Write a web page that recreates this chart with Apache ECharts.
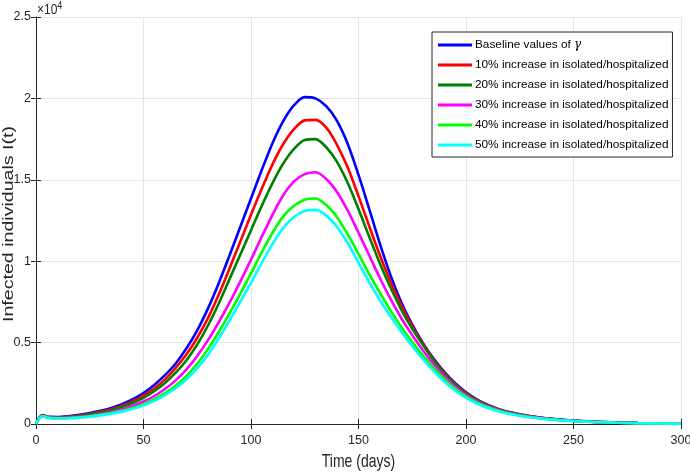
<!DOCTYPE html>
<html>
<head>
<meta charset="utf-8">
<script src="https://cdn.jsdelivr.net/npm/echarts@6/dist/echarts.min.js"></script>
<style>html,body{margin:0;padding:0;background:#fff}#c{width:690px;height:472px}</style>
</head>
<body>
<div id="c"></div>
<script>
// Values are in units of 10^4 infected individuals
const days = [0,3,6,10,15,20,25,30,35,40,45,50,55,60,65,70,75,80,85,90,95,100,105,110,115,120,125,130,135,140,145,150,155,160,165,170,175,180,185,190,195,200,205,210,215,220,230,240,250,260,270,280,290,300];

const baseline = [0,0.055,0.044,0.043,0.048,0.056,0.067,0.081,0.099,0.122,0.152,0.19,0.24,0.30,0.372,0.465,0.575,0.71,0.865,1.035,1.21,1.385,1.56,1.725,1.86,1.958,2.008,2.0,1.952,1.862,1.72,1.53,1.32,1.105,0.91,0.745,0.61,0.497,0.40,0.318,0.25,0.195,0.152,0.119,0.093,0.074,0.048,0.032,0.021,0.014,0.009,0.006,0.004,0.0025];
const inc10 = [0,0.053,0.042,0.041,0.045,0.052,0.062,0.075,0.091,0.112,0.139,0.174,0.218,0.274,0.345,0.428,0.53,0.65,0.795,0.955,1.12,1.285,1.445,1.595,1.72,1.812,1.865,1.868,1.82,1.715,1.575,1.40,1.215,1.035,0.87,0.725,0.60,0.492,0.395,0.313,0.245,0.19,0.148,0.116,0.091,0.072,0.047,0.031,0.02,0.013,0.009,0.006,0.004,0.0025];
const inc20 = [0,0.052,0.041,0.04,0.043,0.049,0.058,0.07,0.085,0.104,0.129,0.161,0.201,0.252,0.315,0.392,0.488,0.605,0.74,0.89,1.04,1.19,1.34,1.48,1.60,1.69,1.745,1.75,1.70,1.61,1.48,1.32,1.15,0.985,0.835,0.70,0.585,0.485,0.39,0.307,0.24,0.186,0.145,0.114,0.089,0.07,0.046,0.03,0.02,0.013,0.0085,0.0055,0.0035,0.0025];
const inc30 = [0,0.05,0.039,0.037,0.039,0.044,0.051,0.061,0.074,0.09,0.111,0.138,0.172,0.215,0.268,0.335,0.418,0.515,0.625,0.745,0.875,1.01,1.15,1.285,1.405,1.49,1.535,1.546,1.505,1.425,1.31,1.175,1.035,0.895,0.765,0.648,0.545,0.452,0.367,0.292,0.229,0.178,0.139,0.109,0.086,0.067,0.044,0.029,0.019,0.012,0.008,0.005,0.0035,0.002];
const inc40 = [0,0.049,0.038,0.035,0.037,0.041,0.047,0.056,0.067,0.081,0.099,0.122,0.152,0.19,0.237,0.296,0.37,0.46,0.565,0.68,0.80,0.925,1.055,1.175,1.275,1.34,1.378,1.385,1.345,1.27,1.165,1.045,0.92,0.805,0.695,0.595,0.505,0.42,0.345,0.275,0.217,0.17,0.133,0.105,0.083,0.065,0.042,0.028,0.018,0.012,0.008,0.005,0.003,0.002];
const inc50 = [0,0.048,0.037,0.034,0.035,0.039,0.045,0.053,0.063,0.076,0.093,0.114,0.142,0.177,0.221,0.275,0.343,0.425,0.525,0.635,0.75,0.868,0.99,1.105,1.205,1.272,1.308,1.315,1.28,1.21,1.11,0.99,0.87,0.76,0.66,0.565,0.478,0.398,0.325,0.26,0.206,0.162,0.127,0.1,0.079,0.063,0.041,0.027,0.018,0.012,0.0075,0.005,0.003,0.002];

const seriesNames = ['Baseline values of γ','10% increase in isolated/hospitalized','20% increase in isolated/hospitalized','30% increase in isolated/hospitalized','40% increase in isolated/hospitalized','50% increase in isolated/hospitalized'];
const seriesValues = [baseline, inc10, inc20, inc30, inc40, inc50];
const colors = ['#0000ff','#ff0000','#008000','#ff00ff','#00ff00','#00ffff'];
const xTicks = [0,50,100,150,200,250,300];
const yTicks = [0,0.5,1,1.5,2,2.5];
const xLabel = 'Time (days)';
const yLabel = 'Infected individuals I(t)';

const FONT = '"Liberation Sans", Arial, sans-serif';
const AX = '#262626';
const chart = echarts.init(document.getElementById('c'), null, {renderer:'canvas'});

const series = seriesNames.map((n,i)=>({
  name:n, type:'line', xAxisIndex:0, yAxisIndex:0,
  data: days.map((d,k)=>[d, seriesValues[i][k]]),
  showSymbol:false, smooth:0.3, lineStyle:{width:2.6,color:colors[i]}, itemStyle:{color:colors[i]},
  animation:false, z:2+i
}));

const axisCommon = {
  type:'value', axisLine:{show:true,lineStyle:{color:AX,width:1}},
  axisTick:{show:true,inside:true,length:5,lineStyle:{color:AX}},
};

chart.setOption({
  animation:false,
  grid:{left:36,right:9,top:17,bottom:48,containLabel:false,outerBoundsMode:'none'},
  xAxis:[
    Object.assign({}, axisCommon, {position:'bottom',min:0,max:300,interval:50,
      axisLabel:{color:AX,fontFamily:FONT,fontSize:12.5,margin:10,formatter:v=>xTicks.includes(v)?String(v):''},
      splitLine:{show:true,lineStyle:{color:'#e6e6e6',width:1}}}),
    Object.assign({}, axisCommon, {position:'top',min:0,max:300,interval:50,axisLabel:{show:false},splitLine:{show:false}})
  ],
  yAxis:[
    Object.assign({}, axisCommon, {position:'left',min:0,max:2.5,interval:0.5,
      axisLabel:{color:AX,fontFamily:FONT,fontSize:12.5,margin:5,formatter:v=>yTicks.includes(v)?String(v):''},
      splitLine:{show:true,lineStyle:{color:'#e6e6e6',width:1}}}),
    Object.assign({}, axisCommon, {position:'right',min:0,max:2.5,interval:0.5,axisLabel:{show:false},splitLine:{show:false}})
  ],
  legend:{
    orient:'vertical', left:432, top:32, data:seriesNames,
    backgroundColor:'#fff', borderColor:'#262626', borderWidth:1, padding:[6,4,5,6],
    icon:'rect', itemWidth:34, itemHeight:3, itemGap:6,
    textStyle:{color:'#000',fontFamily:FONT,fontSize:11.8,lineHeight:14,padding:[0,0,0,-2],
      rich:{t:{fontFamily:FONT,fontSize:11.8,lineHeight:14,color:'#000'},g:{fontFamily:'"DejaVu Serif", serif',fontStyle:'italic',fontSize:12,lineHeight:14,color:'#000'}}},
    formatter:n=>n.indexOf('γ')>=0?'{t|'+n.replace(' γ',' ')+'}{g|γ}':n
  },
  graphic:[
    {type:'text',x:37,y:0,scaleY:1.25,style:{text:'{a|×10}{b|4}',rich:{a:{fontFamily:FONT,fontSize:12,fill:AX},b:{fontFamily:FONT,fontSize:9,fill:AX,verticalAlign:'top',padding:[0,0,6,0]}}}},
    {type:'text',x:358.5,y:462,scaleY:1.3,style:{text:xLabel,fontFamily:FONT,fontSize:14,fill:AX,align:'center',verticalAlign:'middle'}},
    {type:'text',x:9,y:224,rotation:Math.PI/2,scaleX:1.4,scaleY:1,style:{text:yLabel,fontFamily:FONT,fontSize:14,fill:AX,align:'center',verticalAlign:'middle'}}
  ],
  series:series
});
</script>
</body>
</html>
